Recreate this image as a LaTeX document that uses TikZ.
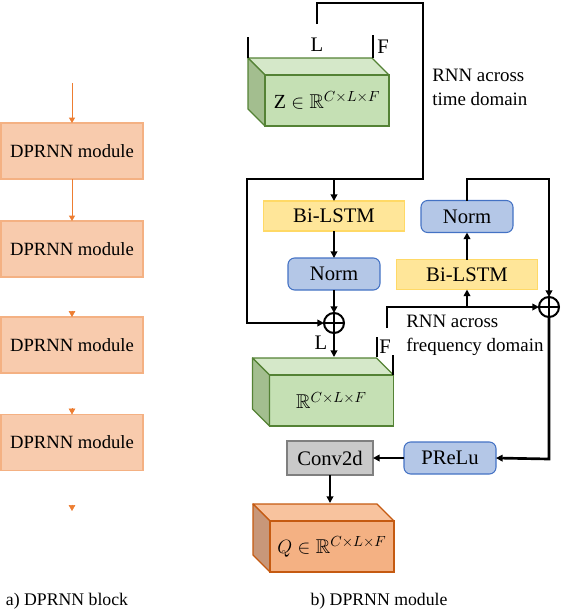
\documentclass[tikz,border=0pt]{standalone}
\usepackage{amssymb}
\usepackage{fontspec}
\setmainfont{Liberation Serif}
\usetikzlibrary{arrows.meta,calc}
\definecolor{lorF}{HTML}{F8CBAD}
\definecolor{lorD}{HTML}{F4B183}
\definecolor{lorA}{HTML}{ED7D31}
\definecolor{ylF}{HTML}{FFE699}
\definecolor{ylD}{HTML}{FFD966}
\definecolor{blF}{HTML}{B4C7E7}
\definecolor{blD}{HTML}{4472C4}
\definecolor{gyF}{HTML}{C9C9C9}
\definecolor{gyD}{HTML}{7F7F7F}
\definecolor{grF}{HTML}{C5E0B4}
\definecolor{grT}{HTML}{D5E8C9}
\definecolor{grS}{HTML}{A3BE8F}
\definecolor{grD}{HTML}{548235}
\definecolor{qF}{HTML}{F4B183}
\definecolor{qT}{HTML}{F8C39E}
\definecolor{qS}{HTML}{C89779}
\definecolor{qD}{HTML}{C55A11}
\newcommand{\mycuboid}[4]{%
  \filldraw[fill=#3,draw=#4,line width=1pt,line join=round] (#1.north west) -- (#1.north east) -- ($(#1.north east)+(-17,-17)$) -- ($(#1.north west)+(-17,-17)$) -- cycle;
  \filldraw[fill=#2,draw=#4,line width=1pt,line join=round] (#1.north west) -- ($(#1.north west)+(-17,-17)$) -- ($(#1.south west)+(-17,-17)$) -- (#1.south west) -- cycle;
}
\tikzset{
  lbox/.style={draw=lorD, fill=lorF, line width=1pt, minimum width=106.5pt, minimum height=42pt, inner sep=0pt, outer sep=0pt, font=\fontsize{14}{16}\selectfont},
  oarr/.style={draw=lorA, line width=0.7pt, -{Triangle[length=4pt,width=4.5pt]}},
  otip/.style={draw=lorA, line width=0.4pt, shorten <=0pt, -{Triangle[length=4.5pt,width=5pt,fill=lorA]}},
  lstmb/.style={draw=ylD, fill=ylF, line width=0.8pt, minimum width=106pt, minimum height=22.5pt, inner sep=0pt, outer sep=0pt, font=\fontsize{15.5}{18}\selectfont},
  normb/.style={draw=blD, fill=blF, line width=0.8pt, rounded corners=5pt, minimum width=69pt, minimum height=24pt, inner sep=0pt, outer sep=0pt, font=\fontsize{15.5}{18}\selectfont},
  convb/.style={draw=gyD, fill=gyF, line width=1pt, minimum width=64.5pt, minimum height=25.5pt, inner sep=0pt, outer sep=0pt, font=\fontsize{15.5}{18}\selectfont},
  frontbox/.style={line width=1pt, minimum width=93pt, minimum height=38.25pt, inner sep=0pt, outer sep=0pt, font=\fontsize{15}{18}\selectfont},
  plusb/.style={circle, draw, line width=1.5pt, minimum size=15pt, inner sep=0pt, outer sep=0pt, path picture={\draw[line width=1.2pt] (path picture bounding box.north) -- (path picture bounding box.south) (path picture bounding box.west) -- (path picture bounding box.east);}},
  tl/.style={line width=2pt, line join=miter, -{Triangle[length=5pt,width=5pt]}},
  ml/.style={line width=1.4pt, -{Triangle[length=5pt,width=5pt]}},
  lbl/.style={font=\fontsize{15.5}{18}\selectfont, inner sep=0pt},
  notetxt/.style={font=\fontsize{14.2}{17.5}\selectfont, align=left, anchor=west, inner sep=0pt},
  captxt/.style={font=\fontsize{13.3}{16}\selectfont, inner sep=0pt}
}
\begin{document}
\begin{tikzpicture}[x=0.75pt,y=-0.75pt]
\useasboundingbox (0,0) rectangle (562,612);
% ---------- left column ----------
\node[lbox] (b1) at (72,151) {DPRNN module};
\node[lbox] (b2) at (72,249) {DPRNN module};
\node[lbox] (b3) at (72,345) {DPRNN module};
\node[lbox] (b4) at (72,442.5) {DPRNN module};
\coordinate (a0) at (72,83);
\coordinate (a2) at (72,310.5);
\coordinate (a3) at (72,408);
\coordinate (a4s) at (72,504.5);
\coordinate (a4e) at (72,511);
\draw[oarr] (a0) -- (b1.north);
\draw[oarr] (b1.south) -- (b2.north);
\draw[otip] (a2) -- (b3.north);
\draw[otip] (a3) -- (b4.north);
\draw[otip] (a4s) -- (a4e);
\node[captxt] (capa) at (67,601) {a) DPRNN block};
% ---------- right: Z cuboid ----------
\node[frontbox, draw=grD, fill=grF] (zc) at (327,100.5) {};
\mycuboid{zc}{grS}{grT}{grD}
\node[frontbox, draw=grD] (zct) at (327,100.5) {$\mathrm{Z}\in\mathbb{R}^{C\times L\times F}$};
\coordinate (zt1a) at (248,37);
\coordinate (zt1b) at (248,58);
\coordinate (zt2a) at (373,35);
\coordinate (zt2b) at (373,58);
\draw[line width=0.8pt] (zt1a) -- (zt1b);
\draw[line width=0.8pt] (zt2a) -- (zt2b);
\node[lbl] (zL) at (317,45) {L};
\node[lbl] (zF) at (383,47) {F};
\node[notetxt] (tnote) at (432,87.5) {RNN across\\time domain};
% ---------- blocks ----------
\node[lstmb] (lstm1) at (334,216) {Bi-LSTM};
\node[normb] (norm1) at (334,274) {Norm};
\node[plusb] (plus1) at (334,323) {};
\node[lstmb] (lstm2) at (467,274.5) {Bi-LSTM};
\node[normb] (norm2) at (467,216.5) {Norm};
\node[plusb] (plus2) at (549,307) {};
\node[convb] (conv) at (330,458) {Conv2d};
\node[normb] (prelu) at (450,458) {PReLu};
% ---------- cuboid 2 ----------
\node[frontbox, draw=grD, fill=grF] (c2) at (331.5,400.5) {};
\mycuboid{c2}{grS}{grT}{grD}
\node[frontbox, draw=grD] (c2t) at (331.5,400.5) {$\mathbb{R}^{C\times L\times F}$};
\node[lbl] (c2L) at (321,343) {L};
\node[lbl] (c2F) at (385,347) {F};
\coordinate (c2ta) at (377,337);
\coordinate (c2tb) at (377,357);
\coordinate (c2ua) at (393,355);
\coordinate (c2ub) at (393,375);
\draw[line width=0.8pt] (c2ta) -- (c2tb);
\draw[line width=0.8pt] (c2ua) -- (c2ub);
\node[notetxt] (fnote) at (406,335.5) {RNN across\\frequency domain};
% ---------- Q cuboid ----------
\node[frontbox, draw=qD, fill=qF] (qc) at (332,546.5) {};
\mycuboid{qc}{qS}{qT}{qD}
\node[frontbox, draw=qD] (qct) at (332,546.5) {$Q\in\mathbb{R}^{C\times L\times F}$};
% ---------- connectors ----------
\coordinate (zin) at (317,24);
\coordinate (t1) at (317,3);
\coordinate (t2) at (423,3);
\coordinate (t3) at (423,179);
\coordinate (t4) at (247,179);
\coordinate (t5) at (247,323);
\coordinate (tb) at (334,179);
\draw[tl] (zin) -- (t1) -- (t2) -- (t3) -- (t4) -- (t5) -- (plus1.west);
\draw[ml] (tb) -- (lstm1.north);
\draw[ml] (lstm1.south) -- (norm1.north);
\draw[ml] (norm1.south) -- (plus1.north);
\coordinate (c2in) at (334,357);
\draw[ml] (plus1.south) -- (c2in);
\coordinate (fj) at (387,328);
\coordinate (f1) at (387,307);
\coordinate (fb) at (467,307);
\draw[tl] (fj) -- (f1) -- (plus2.west);
\draw[tl] (fb) -- (lstm2.south);
\draw[tl] (lstm2.north) -- (norm2.south);
\coordinate (r1) at (467,179);
\coordinate (r2) at (549,179);
\draw[tl] (norm2.north) -- (r1) -- (r2) -- (plus2.north);
\coordinate (p1) at (549,459);
\draw[tl] (plus2.south) -- (p1) -- (prelu.east);
\draw[tl] (prelu.west) -- (conv.east);
\coordinate (qin) at (330,503);
\draw[ml] (conv.south) -- (qin);
\node[captxt] (capb) at (379,601) {b) DPRNN module};
\end{tikzpicture}
\end{document}
